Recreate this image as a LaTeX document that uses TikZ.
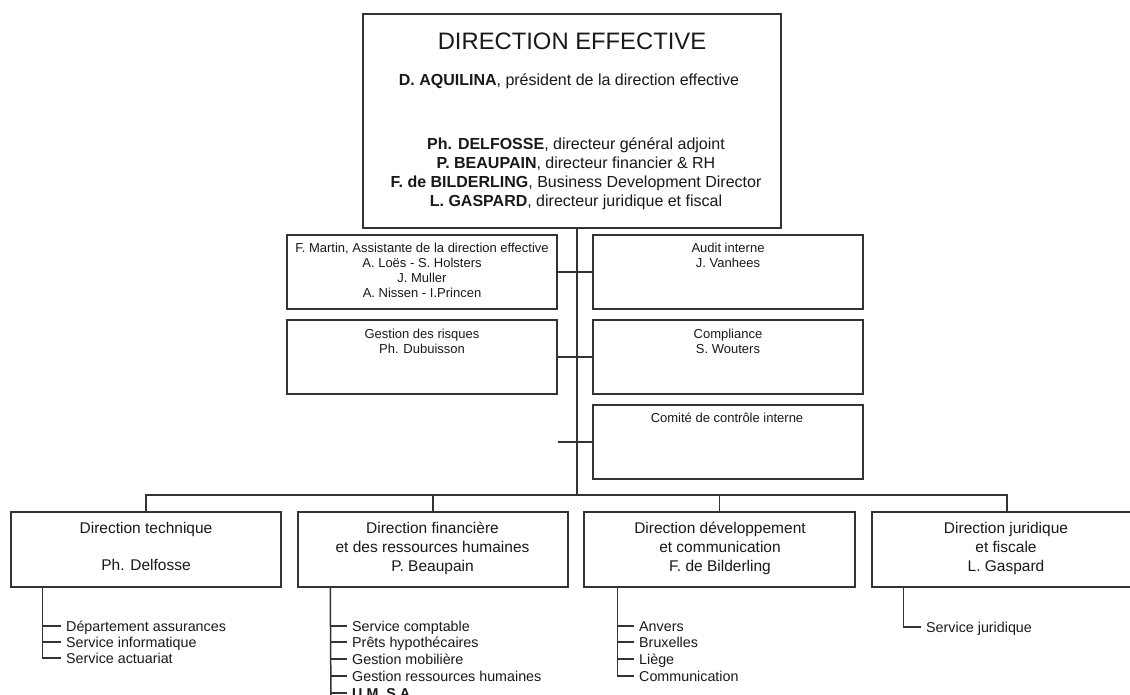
\documentclass[tikz,border=0pt]{standalone}
\usepackage{fontspec}
\setmainfont{Liberation Sans}
\definecolor{ln}{gray}{0.2}
\definecolor{tx}{gray}{0.1}
\begin{document}
\begin{tikzpicture}[x=1pt,y=-1pt,
  box/.style={draw=ln, line width=1.5pt, rectangle, inner sep=0pt},
  wire/.style={draw=ln, line width=1.5pt},
  ttl/.style={inner sep=0pt, anchor=base, text=tx, font=\fontsize{23.8}{28}\selectfont},
  top/.style={inner sep=0pt, anchor=base, text=tx, font=\fontsize{16}{19}\selectfont},
  sml/.style={inner sep=0pt, anchor=base, text=tx, font=\fontsize{13}{15}\selectfont},
  head/.style={inner sep=0pt, anchor=base, text=tx, font=\fontsize{15.5}{19}\selectfont},
  item/.style={inner xsep=5pt, inner ysep=0pt, anchor=base west, text=tx, font=\fontsize{14.3}{17}\selectfont}]
\useasboundingbox (0,0) rectangle (1130,695);
\fill[white] (0,0) rectangle (1130,695);

% top box
\node[box, minimum width=418pt, minimum height=214pt] (topbox) at (572,121) {};
\node[ttl] (t0) at (572,50) {DIRECTION EFFECTIVE};
\node[top] (t1) at (569,86) {\textbf{D. AQUILINA}, président de la direction effective};
\node[top] (t2) at (576,150) {\textbf{Ph. DELFOSSE}, directeur général adjoint};
\node[top] (t3) at (576,169) {\textbf{P. BEAUPAIN}, directeur financier \& RH};
\node[top] (t4) at (576,188) {\textbf{F. de BILDERLING}, Business Development Director};
\node[top] (t5) at (576,207) {\textbf{L. GASPARD}, directeur juridique et fiscal};

% staff boxes
\node[box, minimum width=270pt, minimum height=74pt] (m1) at (422,272) {};
\node[sml] (m1a) at (422,252) {F. Martin, Assistante de la direction effective};
\node[sml] (m1b) at (422,267) {A. Loës - S. Holsters};
\node[sml] (m1c) at (422,282) {J. Muller};
\node[sml] (m1d) at (422,298) {A. Nissen - I.Princen};

\node[box, minimum width=270pt, minimum height=74pt] (risk) at (422,357) {};
\node[sml] (riska) at (422,338) {Gestion des risques};
\node[sml] (riskb) at (422,353) {Ph. Dubuisson};

\node[box, minimum width=270pt, minimum height=74pt] (audit) at (728,272) {};
\node[sml] (audita) at (728,252) {Audit interne};
\node[sml] (auditb) at (728,267) {J. Vanhees};

\node[box, minimum width=270pt, minimum height=74pt] (compl) at (728,357) {};
\node[sml] (compla) at (728,338) {Compliance};
\node[sml] (complb) at (728,353) {S. Wouters};

\node[box, minimum width=270pt, minimum height=74pt] (comite) at (728,442) {};
\node[sml] (comitea) at (727,422) {Comité de contrôle interne};

% spine
\coordinate (st) at (577,228);
\coordinate (sb) at (577,495);
\coordinate (ct) at (558,442);
\draw[wire] (st) -- (sb);
\draw[wire] (m1.east) -- (audit.west);
\draw[wire] (risk.east) -- (compl.west);
\draw[wire] (comite.west) -- (ct);

% directions
\node[box, minimum width=270pt, minimum height=75pt] (d1) at (146,549.5) {};
\node[head] (d1a) at (146,533) {Direction technique};
\node[head] (d1b) at (146,570) {Ph. Delfosse};

\node[box, minimum width=270pt, minimum height=75pt] (d2) at (433,549.5) {};
\node[head] (d2a) at (432.5,533) {Direction financière};
\node[head] (d2b) at (432.5,552) {et des ressources humaines};
\node[head] (d2c) at (432.5,571) {P. Beaupain};

\node[box, minimum width=271pt, minimum height=75pt] (d3) at (719.5,549.5) {};
\node[head] (d3a) at (720,533) {Direction développement};
\node[head] (d3b) at (720,552) {et communication};
\node[head] (d3c) at (720,571) {F. de Bilderling};

\node[box, minimum width=270pt, minimum height=75pt] (d4) at (1007,549.5) {};
\node[head] (d4a) at (1006,533) {Direction juridique};
\node[head] (d4b) at (1006,552) {et fiscale};
\node[head] (d4c) at (1006,571) {L. Gaspard};

\draw[wire] (d1.north) |- (sb) -| (d4.north);
\draw[wire] (d2.north) -- (d2.north |- sb);
\draw[wire] (d3.north) -- (d3.north |- sb);

% sub-items
\node[item] (a1) at (61,631) {Département assurances};
\node[item] (a2) at (61,647) {Service informatique};
\node[item] (a3) at (61,663) {Service actuariat};

\node[item] (b1) at (347,631) {Service comptable};
\node[item] (b2) at (347,647) {Prêts hypothécaires};
\node[item] (b3) at (347,664) {Gestion mobilière};
\node[item] (b4) at (347,681) {Gestion ressources humaines};
\node[item] (b5) at (347,698) {\textbf{U.M. S.A.}};

\node[item] (c1) at (634,631) {Anvers};
\node[item] (c2) at (634,647) {Bruxelles};
\node[item] (c3) at (634,664) {Liège};
\node[item] (c4) at (634,681) {Communication};

\node[item] (e1) at (921,632) {Service juridique};

\coordinate (v1) at ([xshift=32pt]d1.south west);
\coordinate (v2) at ([xshift=33pt]d2.south west);
\coordinate (v3) at ([xshift=34pt]d3.south west);
\coordinate (v4) at ([xshift=32pt]d4.south west);
\coordinate (v2e) at (331,705);

\foreach \n in {a1,a2,a3,b1,b2,b3,b4,b5,c1,c2,c3,c4,e1}{
  \coordinate (\n t) at ([yshift=5pt]\n.base west);
}
\draw[wire] (v1) |- (a3t);
\draw[wire] (a1t) -- (a1t -| v1);
\draw[wire] (a2t) -- (a2t -| v1);

\draw[wire] (v2) -- (v2e);
\foreach \n in {b1,b2,b3,b4,b5}{ \draw[wire] (\n t) -- (\n t -| v2); }

\draw[wire] (v3) |- (c4t);
\foreach \n in {c1,c2,c3}{ \draw[wire] (\n t) -- (\n t -| v3); }

\draw[wire] (v4) |- (e1t);
\end{tikzpicture}
\end{document}
